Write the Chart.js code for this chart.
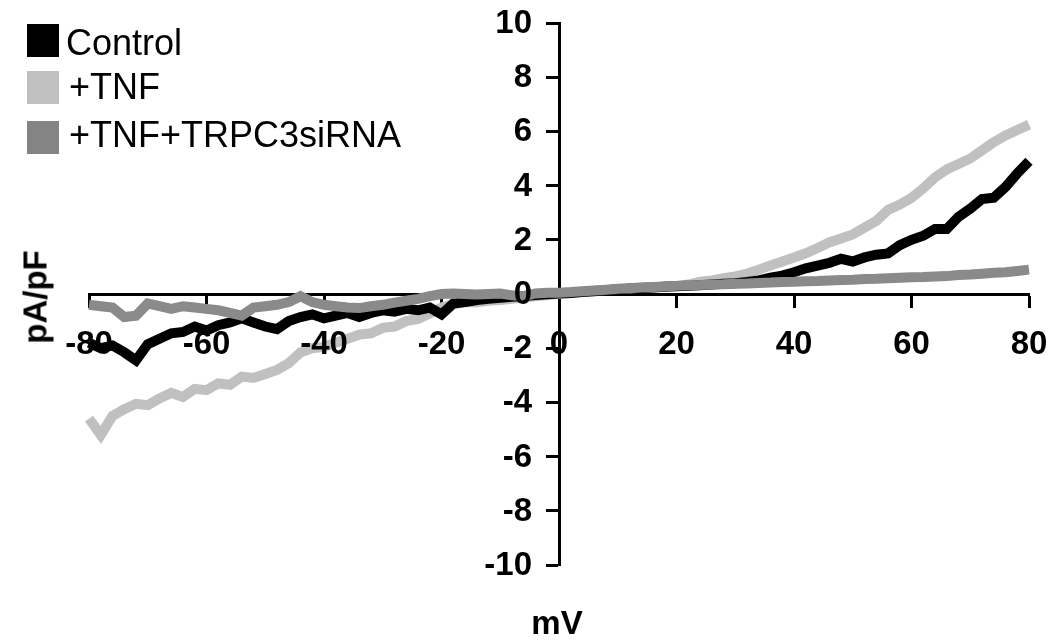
<!DOCTYPE html>
<html>
<head>
<meta charset="utf-8">
<script src="https://cdn.jsdelivr.net/npm/chart.js@4.4.1/dist/chart.umd.min.js"></script>
<style>
  html, body { margin: 0; padding: 0; background: #ffffff; }
  #wrap { position: relative; width: 1052px; height: 640px; overflow: hidden; background: #fff; }
  #c { position: absolute; left: 0; top: 0; }
  .lg-box { position: absolute; left: 27px; width: 32px; height: 33px; }
  .lg-txt { position: absolute; font-family: "Liberation Sans", Arial, sans-serif; font-size: 36px; line-height: 36px; color: #000; white-space: nowrap; }
  .ttl { position: absolute; font-family: "Liberation Sans", Arial, sans-serif; font-weight: bold; font-size: 33px; line-height: 33px; color: #000; white-space: nowrap; }
</style>
</head>
<body>
<div id="wrap">
  <canvas id="c" width="1052" height="640"></canvas>
  <div class="lg-box" style="top:24px;background:#000000"></div>
  <div class="lg-txt" style="left:66px;top:25px">Control</div>
  <div class="lg-box" style="top:71px;background:#c0c0c0"></div>
  <div class="lg-txt" style="left:69px;top:69px">+TNF</div>
  <div class="lg-box" style="top:121px;background:#848484"></div>
  <div class="lg-txt" style="left:69px;top:117px">+TNF+TRPC3siRNA</div>
  <div class="ttl" style="left:35px;top:297px;transform:translate(-50%,-50%) rotate(-90deg)">pA/pF</div>
  <div class="ttl" style="left:557px;top:606px;transform:translateX(-50%)">mV</div>
</div>
<script>
// Voltage (mV), sampled every 2 mV
const voltage = [
  -80,-78,-76,-74,-72,-70,-68,-66,-64,-62,-60,-58,-56,-54,-52,-50,-48,-46,-44,-42,
  -40,-38,-36,-34,-32,-30,-28,-26,-24,-22,-20,-18,-16,-14,-12,-10,-8,-6,-4,-2,
  0,2,4,6,8,10,12,14,16,18,20,22,24,26,28,30,32,34,36,38,
  40,42,44,46,48,50,52,54,56,58,60,62,64,66,68,70,72,74,76,78,80
];
// Current density (pA/pF)
const control = [
  -1.8,-2.0,-1.9,-2.15,-2.45,-1.85,-1.65,-1.45,-1.4,-1.2,-1.35,-1.15,-1.05,-0.9,-1.05,-1.2,-1.3,-1.0,-0.85,-0.75,
  -0.9,-0.8,-0.7,-0.85,-0.7,-0.6,-0.65,-0.55,-0.6,-0.5,-0.75,-0.35,-0.3,-0.22,-0.18,-0.14,-0.1,-0.07,-0.04,-0.01,
  0.02,0.04,0.07,0.1,0.14,0.17,0.2,0.22,0.24,0.27,0.29,0.3,0.32,0.35,0.38,0.4,0.44,0.5,0.6,0.68,
  0.8,0.95,1.05,1.15,1.3,1.2,1.35,1.45,1.5,1.8,2.0,2.15,2.4,2.4,2.85,3.15,3.5,3.55,3.95,4.45,4.9
];
const tnf = [
  -4.6,-5.2,-4.5,-4.25,-4.05,-4.1,-3.85,-3.65,-3.8,-3.5,-3.55,-3.3,-3.35,-3.05,-3.1,-2.95,-2.8,-2.55,-2.15,-2.0,
  -1.95,-1.8,-1.65,-1.5,-1.45,-1.25,-1.2,-1.0,-0.92,-0.72,-0.5,-0.38,-0.3,-0.3,-0.25,-0.22,-0.18,-0.12,-0.08,-0.04,
  0.0,0.04,0.08,0.12,0.15,0.18,0.2,0.23,0.25,0.28,0.3,0.35,0.45,0.5,0.58,0.65,0.75,0.9,1.05,1.2,
  1.35,1.5,1.7,1.9,2.05,2.2,2.45,2.7,3.1,3.3,3.55,3.9,4.3,4.6,4.8,5.0,5.3,5.6,5.85,6.05,6.25
];
const sirna = [
  -0.4,-0.45,-0.5,-0.85,-0.8,-0.35,-0.45,-0.55,-0.45,-0.5,-0.55,-0.6,-0.7,-0.8,-0.5,-0.45,-0.4,-0.3,-0.08,-0.3,
  -0.4,-0.45,-0.5,-0.52,-0.45,-0.4,-0.32,-0.25,-0.18,-0.08,0.0,0.02,0.0,-0.02,0.0,0.02,-0.05,-0.08,0.02,0.05,
  0.05,0.07,0.1,0.13,0.16,0.19,0.21,0.24,0.26,0.28,0.3,0.32,0.33,0.35,0.36,0.38,0.39,0.41,0.42,0.44,
  0.45,0.47,0.48,0.5,0.52,0.53,0.55,0.56,0.58,0.6,0.62,0.63,0.65,0.66,0.7,0.72,0.75,0.78,0.8,0.85,0.9
];
const seriesNames = ["Control", "+TNF", "+TNF+TRPC3siRNA"];
const xRange = [-80, 80];
const yRange = [-10, 10];
const xStep = 20;
const yStep = 2;

const pts = arr => voltage.map((v, i) => ({ x: v, y: arr[i] }));
const FONT_FAMILY = '"Liberation Sans", Arial, sans-serif';
const lineStyle = { borderWidth: 10, pointRadius: 0, tension: 0, borderJoinStyle: 'miter', borderCapStyle: 'butt', fill: false, clip: 12 };

// Tick labels for both value-positioned axes, placed from the scales' own ticks.
const axisLabelPlugin = {
  id: 'axisLabels',
  afterDraw(chart) {
    const ys = chart.scales.y, xs = chart.scales.x;
    const axisX = xs.getPixelForValue(0);
    const axisY = ys.getPixelForValue(0);
    const ctx = chart.ctx;
    ctx.save();
    ctx.font = 'bold 33px ' + FONT_FAMILY;
    ctx.fillStyle = '#000';
    ctx.textBaseline = 'middle';
    ctx.textAlign = 'right';
    ys.ticks.forEach(t => {
      ctx.fillText(String(t.value), axisX - 27, ys.getPixelForValue(t.value) + 1);
    });
    ctx.textAlign = 'center';
    xs.ticks.forEach(t => {
      ctx.fillText(String(t.value), xs.getPixelForValue(t.value), axisY + 51);
    });
    ctx.restore();
  }
};

new Chart(document.getElementById('c'), {
  type: 'line',
  data: {
    datasets: [
      Object.assign({ label: seriesNames[0], data: pts(control), borderColor: '#000000', order: 1 }, lineStyle),
      Object.assign({ label: seriesNames[1], data: pts(tnf), borderColor: '#c0c0c0', order: 2 }, lineStyle),
      Object.assign({ label: seriesNames[2], data: pts(sirna), borderColor: '#8a8a8a', order: 0 }, lineStyle)
    ]
  },
  plugins: [axisLabelPlugin],
  options: {
    responsive: false,
    animation: false,
    devicePixelRatio: 1,
    layout: { padding: { left: 89, right: 23, top: 23, bottom: 75 } },
    plugins: { legend: { display: false }, tooltip: { enabled: false } },
    scales: {
      x: {
        type: 'linear', min: xRange[0], max: xRange[1], position: { y: 0 },
        ticks: { stepSize: xStep, display: false, autoSkip: false },
        grid: { display: true, drawOnChartArea: false, drawTicks: true, tickLength: 12, tickWidth: 3, tickColor: '#000' },
        border: { display: true, color: '#000', width: 3 }
      },
      y: {
        type: 'linear', min: yRange[0], max: yRange[1], position: { x: 0 },
        ticks: { stepSize: yStep, display: false, autoSkip: false },
        grid: { display: true, drawOnChartArea: false, drawTicks: true, tickLength: 12, tickWidth: 3, tickColor: '#000' },
        border: { display: true, color: '#000', width: 3 }
      }
    }
  }
});
</script>
</body>
</html>
